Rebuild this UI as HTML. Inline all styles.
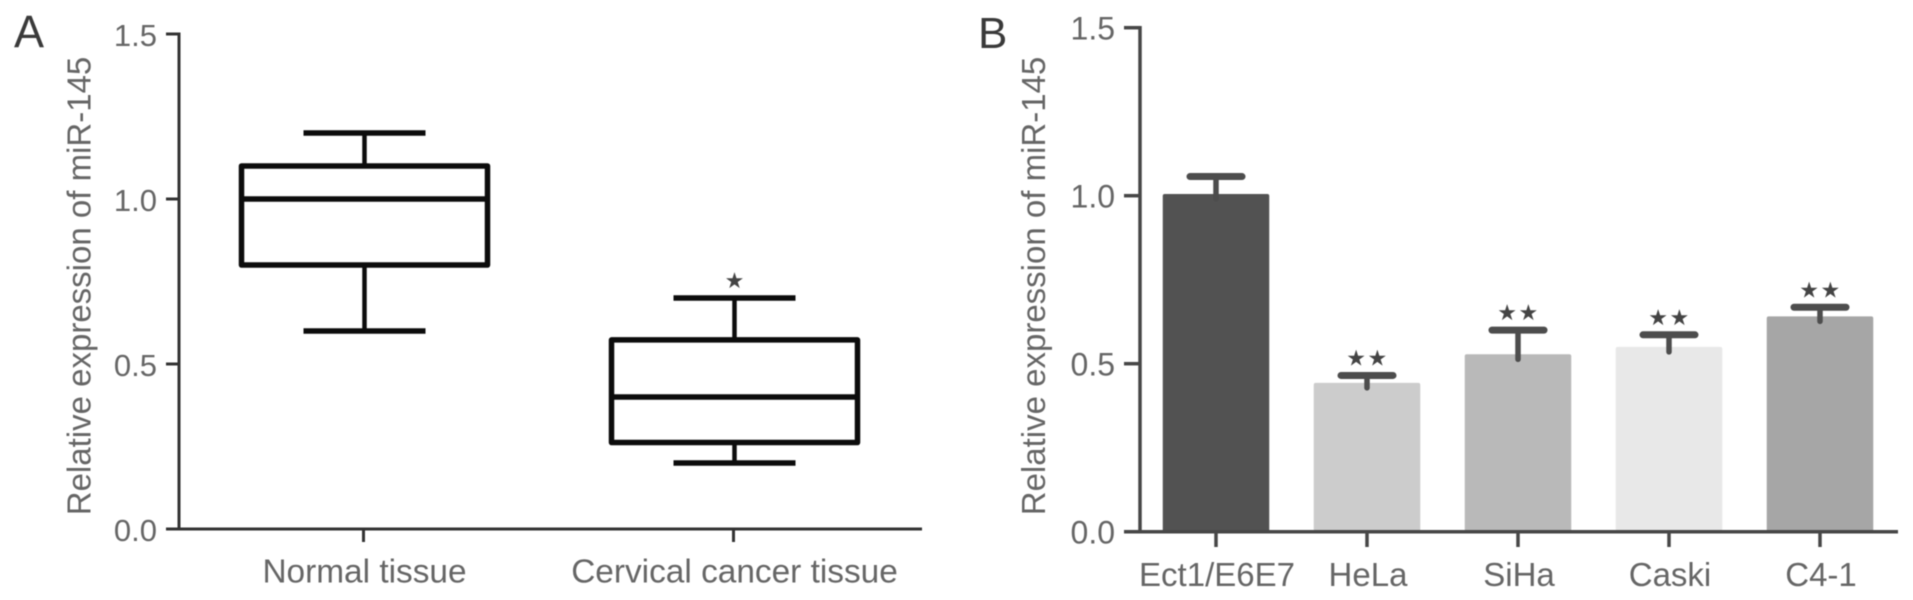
<!DOCTYPE html>
<html lang="en">
<head>
<meta charset="utf-8">
<title>Relative expression of miR-145</title>
<style>
html,body{margin:0;padding:0;background:#fff;width:1913px;height:600px;overflow:hidden}
svg{display:block;filter:blur(0.5px)}
text{font-family:"Liberation Sans","DejaVu Sans",sans-serif;fill:#666}
</style>
</head>
<body>
<svg id="figure" xmlns="http://www.w3.org/2000/svg" width="1913" height="600" viewBox="0 0 1913 600">
  <rect width="1913" height="600" fill="#fff"/>
  <text x="14" y="47" font-size="45" style="fill:#3a3a3a">A</text>
  <text x="978" y="48" font-size="44" style="fill:#3a3a3a">B</text>
  <text transform="translate(90.5,286) rotate(-90)" text-anchor="middle" font-size="33">Relative expression of miR-145</text>
  <text transform="translate(1045,286) rotate(-90)" text-anchor="middle" font-size="33">Relative expression of miR-145</text>
  <g id="panel-a"></g>
  <g id="panel-b"></g>
</svg>
<script>
// Panel A data
const boxCategories = ['Normal tissue', 'Cervical cancer tissue'];
const boxLow = [0.6, 0.2];
const boxQ1 = [0.8, 0.262];
const boxMedian = [1.0, 0.4];
const boxQ3 = [1.1, 0.573];
const boxHigh = [1.2, 0.7];
const boxMarks = ['', '★'];

// Panel B data
const barCategories = ['Ect1/E6E7', 'HeLa', 'SiHa', 'Caski', 'C4-1'];
const barValues = [1.005, 0.443, 0.528, 0.55, 0.641];
const barErrors = [0.052, 0.022, 0.072, 0.036, 0.027];
const barFills = ['#525252', '#cccccc', '#b9b9b9', '#e8e8e8', '#a6a6a6'];
const barMarks = ['', '★★', '★★', '★★', '★★'];

// Shared axis ticks
const yTicks = [0, 0.5, 1.0, 1.5];
const yTickLabels = ['0.0', '0.5', '1.0', '1.5'];

const SVGNS = 'http://www.w3.org/2000/svg';
function make(parent, tag, attrs) {
  const el = document.createElementNS(SVGNS, tag);
  for (const k in attrs) el.setAttribute(k, attrs[k]);
  parent.appendChild(el);
  return el;
}
function line(parent, x1, y1, x2, y2, stroke, width, cap) {
  return make(parent, 'line', {x1: x1, y1: y1, x2: x2, y2: y2, stroke: stroke, 'stroke-width': width, 'stroke-linecap': cap || 'butt'});
}

/* ---------- Panel A ---------- */
const gA = document.getElementById('panel-a');
const yA = v => 529 - v * 330;
const xA = i => 364.5 + i * 370;
const axisA = '#333';

const axisAY = line(gA, 179, yA(1.5) - 1.5, 179, yA(0) + 1.5, axisA, 3);


const axisAX = line(gA, 166, yA(0), 922, yA(0), axisA, 3);



yTicks.forEach((t, i) => {
  const tick = line(gA, 166, yA(t), 179, yA(t), axisA, 3);
  
  
  const lab = make(gA, 'text', {x: 157, y: yA(t) + 12, 'text-anchor': 'end', 'font-size': 31});
  lab.textContent = yTickLabels[i];
  
  
});

boxCategories.forEach((c, i) => {
  const cx = xA(i);
  const tick = line(gA, cx - 1, yA(0), cx - 1, 542, axisA, 3);
  
  
  const lab = make(gA, 'text', {x: cx, y: 582.5, 'text-anchor': 'middle', 'font-size': 33.4});
  lab.textContent = c;
  
  

  const stemHigh = line(gA, cx, yA(boxHigh[i]), cx, yA(boxQ3[i]), '#0c0c0c', 4.5);
  
  
  const stemLow = line(gA, cx, yA(boxQ1[i]), cx, yA(boxLow[i]), '#0c0c0c', 4.5);
  
  
  const capHigh = line(gA, cx - 61, yA(boxHigh[i]), cx + 61, yA(boxHigh[i]), '#0c0c0c', 5.5);
  
  
  const capLow = line(gA, cx - 61, yA(boxLow[i]), cx + 61, yA(boxLow[i]), '#0c0c0c', 5.5);
  
  

  const box = make(gA, 'rect', {x: cx - 123, y: yA(boxQ3[i]), width: 246, height: yA(boxQ1[i]) - yA(boxQ3[i]), fill: '#fff', stroke: '#0c0c0c', 'stroke-width': 5.5, 'stroke-linejoin': 'round'});
  
  
  const med = line(gA, cx - 123, yA(boxMedian[i]), cx + 123, yA(boxMedian[i]), '#0c0c0c', 5.5);
  
  

  if (boxMarks[i]) {
    const m = make(gA, 'text', {x: cx, y: yA(boxHigh[i]) - 10, 'text-anchor': 'middle', 'font-size': 22, style: 'fill:#444;font-family:"DejaVu Sans",sans-serif'});
    m.textContent = boxMarks[i];
    
    
  }
});

/* ---------- Panel B ---------- */
const gB = document.getElementById('panel-b');
const yB = v => 531.7 - v * 336;
const xB = i => 1216 + i * 151;
const axisB = '#474747';
const barW = 106.5;

barCategories.forEach((c, i) => {
  const cx = xB(i);
  const bar = make(gB, 'rect', {x: cx - barW / 2, y: yB(barValues[i]), width: barW, height: yB(0) - yB(barValues[i]), rx: 2, fill: barFills[i]});
  
  

  const capY = yB(barValues[i] + barErrors[i]);
  const stem = line(gB, cx, capY, cx, yB(barValues[i]) + 5, '#4d4d4d', 5.5, 'round');
  
  
  const cap = line(gB, cx - 26, capY, cx + 26, capY, '#4d4d4d', 7, 'round');
  
  

  if (barMarks[i]) {
    const m = make(gB, 'text', {x: cx + 0.5, y: capY - 10, 'text-anchor': 'middle', 'font-size': 22, 'letter-spacing': 1.5, style: 'fill:#444;font-family:"DejaVu Sans",sans-serif'});
    m.textContent = barMarks[i];
    
    
  }

  const tick = line(gB, cx, yB(0), cx, 547, axisB, 3.5);
  
  
  const lab = make(gB, 'text', {x: cx + 1, y: 586, 'text-anchor': 'middle', 'font-size': 33});
  lab.textContent = c;
  
  
});

const axisBY = line(gB, 1140, yB(1.5) - 1.75, 1140, yB(0) + 1.75, axisB, 3.5);


const axisBX = line(gB, 1124, yB(0), 1898, yB(0), axisB, 3.5);



yTicks.forEach((t, i) => {
  const tick = line(gB, 1124, yB(t), 1140, yB(t), axisB, 3.5);
  
  
  const lab = make(gB, 'text', {x: 1115, y: yB(t) + 12, 'text-anchor': 'end', 'font-size': 32});
  lab.textContent = yTickLabels[i];
  
  
});
</script>
</body>
</html>
